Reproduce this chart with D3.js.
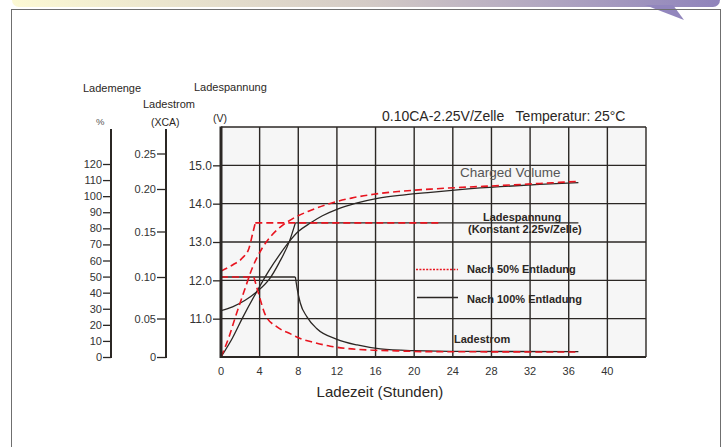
<!DOCTYPE html>
<html><head><meta charset="utf-8">
<script src="https://cdn.jsdelivr.net/npm/d3@7"></script>
<style>
html,body{margin:0;padding:0;background:#fff;}
svg{display:block;font-family:"Liberation Sans",Arial,sans-serif;}
</style></head><body>
<svg id="c" width="725" height="447"></svg>
<script>
// ---------- data ----------
const hourTicks = [0,4,8,12,16,20,24,28,32,36,40];
const hourGrid = [0,4,8,12,16,20,24,28,32,36,40,44];
const voltTicks = [11,12,13,14,15];
const voltGrid = [10,11,12,13,14,15,16];
const chargeTicks = [0,10,20,30,40,50,60,70,80,90,100,110,120];
const currentTicks = [0,0.05,0.10,0.15,0.20,0.25];

// charge voltage (V) – rising part, then held constant
const volt100Rise = [[0,11.21],[1.2,11.31],[2.5,11.48],[3.65,11.69],[5.0,12.03],[6.0,12.45],[7.1,13.03],[7.7,13.5]];
const volt100Hold = [[7.7,13.5],[37,13.5]];
const volt50Rise = [[0,12.24],[1.2,12.40],[2.2,12.58],[2.9,12.84],[3.25,13.19],[3.55,13.5]];
const volt50Hold = [[3.55,13.5],[22.7,13.5]];

// charged volume (%)
const charge100 = [[0,0],[1.2,12],[2.2,24],[3.66,40.2],[5.0,54],[6.0,63],[7.1,72],[8,78],[9.25,83.3],[10.5,87.8],[12,91.8],[14,95.6],[16.2,98.6],[19,100.8],[21.7,102.4],[25,104.2],[28.9,105.9],[33,107.3],[37,108.4]];
const charge50 = [[0,0],[0.8,12],[1.5,25],[2.4,41],[3.25,55.5],[4.3,68],[5.3,76],[6.4,82],[7.6,86.6],[9,90.5],[11.3,95.5],[13.5,98.8],[15.8,101.2],[18.6,103],[21.7,104.4],[25,105.5],[28.9,106.6],[33,107.9],[37,109.2]];

// charge current (xCA)
const current100Hold = [[0,0.10],[7.7,0.10]];
const current100Decay = [[7.7,0.10],[7.87,0.087],[8.2,0.069],[8.9,0.052],[9.9,0.037],[12,0.023],[14.1,0.0156],[16.5,0.0105],[20,0.0082],[25,0.0072],[37,0.007]];
const current50Hold = [[0,0.10],[3.4,0.10]];
const current50Decay = [[3.4,0.10],[3.94,0.078],[4.6,0.054],[5.8,0.039],[7.2,0.030],[8.2,0.024],[9.6,0.019],[11.3,0.014],[13.1,0.011],[15.5,0.009],[18.2,0.008],[21,0.007],[37,0.0065]];

// ---------- layout ----------
const svg = d3.select("#c");
const ink = "#2b2724", red = "#e8141f";
const x = d3.scaleLinear([0,44],[221,646]);
const yV = d3.scaleLinear([10,16],[357,127]);
const yI = d3.scaleLinear([0,0.05,0.10,0.15,0.20,0.25],[357,318.5,277,231.5,189,153.5]);
const yP = d3.scaleLinear([0,120],[357,164]);

// header band
const defs = svg.append("defs");
const g = defs.append("linearGradient").attr("id","band").attr("x1","0").attr("x2","1");
g.append("stop").attr("offset","0").attr("stop-color","#fcf9d4");
g.append("stop").attr("offset","0.5").attr("stop-color","#d4cbc6");
g.append("stop").attr("offset","1").attr("stop-color","#8f83bb");
svg.append("rect").attr("x",12).attr("y",-12).attr("width",708).attr("height",19).attr("rx",7).attr("fill","url(#band)");
svg.append("path").attr("d","M645,5 L673,5 L684,20 Z").attr("fill","#9286bd");
// frame
svg.append("rect").attr("x",11.5).attr("y",9.5).attr("width",709).attr("height",450).attr("fill","none").attr("stroke","#6f6f6f").attr("stroke-width",1);

// plot background
svg.append("rect").attr("x",x(0)).attr("y",yV(16)).attr("width",x(44)-x(0)).attr("height",yV(10)-yV(16)).attr("fill","#f6f6f6");

// grid
svg.append("g").selectAll("line").data(hourGrid).join("line")
  .attr("x1",d=>x(d)).attr("x2",d=>x(d)).attr("y1",yV(16)).attr("y2",yV(10))
  .attr("stroke",ink).attr("stroke-width",1.4);
svg.append("g").selectAll("line").data(voltGrid).join("line")
  .attr("x1",x(0)).attr("x2",x(44)).attr("y1",d=>yV(d)).attr("y2",d=>yV(d))
  .attr("stroke",ink).attr("stroke-width",1.4);

// curves
const mk = (ys, curve) => d3.line().x(d=>x(d[0])).y(d=>ys(d[1])).curve(curve || d3.curveMonotoneX);
const blackStyle = p => p.attr("fill","none").attr("stroke",ink).attr("stroke-width",1.3);
const redStyle = p => p.attr("fill","none").attr("stroke",red).attr("stroke-width",1.6).attr("stroke-dasharray","7,4");

const curves = svg.append("g");
curves.append("path").attr("d",mk(yI,d3.curveLinear)(current100Hold)).call(blackStyle);
curves.append("path").attr("d",mk(yI)(current100Decay)).call(blackStyle);
curves.append("path").attr("d",mk(yV)(volt100Rise)).call(blackStyle);
curves.append("path").attr("d",mk(yV,d3.curveLinear)(volt100Hold)).call(blackStyle);
curves.append("path").attr("d",mk(yP)(charge100)).call(blackStyle);

curves.append("path").attr("d",mk(yI,d3.curveLinear)(current50Hold)).call(redStyle);
curves.append("path").attr("d",mk(yI)(current50Decay)).call(redStyle);
curves.append("path").attr("d",mk(yV)(volt50Rise)).call(redStyle);
curves.append("path").attr("d",mk(yV,d3.curveLinear)(volt50Hold)).call(redStyle);
curves.append("path").attr("d",mk(yP)(charge50)).call(redStyle);

// thick plot borders
svg.append("line").attr("x1",x(0)).attr("x2",x(0)).attr("y1",yV(16)-0.5).attr("y2",yV(10)+1).attr("stroke",ink).attr("stroke-width",3);
svg.append("line").attr("x1",x(0)).attr("x2",x(44)).attr("y1",yV(10)).attr("y2",yV(10)).attr("stroke",ink).attr("stroke-width",2);

// voltage axis
const axV = svg.append("g").attr("transform",`translate(${x(0)-1},0)`)
  .call(d3.axisLeft(yV).tickValues(voltTicks).tickFormat(d3.format(".1f")).tickSize(7).tickPadding(1));
axV.select(".domain").remove();
axV.selectAll("line").attr("stroke",ink).attr("stroke-width",1.3);
axV.selectAll("text").attr("font-size",12).attr("fill","#333").attr("font-family","Liberation Sans, Arial, sans-serif");

// current axis
const axI = svg.append("g").attr("transform","translate(166,0)")
  .call(d3.axisLeft(yI).tickValues(currentTicks).tickFormat(d=>d===0?"0":d3.format(".2f")(d)).tickSize(9).tickPadding(1));
axI.select(".domain").remove();
axI.append("line").attr("x1",0).attr("x2",0).attr("y1",129).attr("y2",yI(0)+1).attr("stroke",ink).attr("stroke-width",2);
axI.selectAll(".tick line").attr("stroke",ink).attr("stroke-width",1.3);
axI.selectAll("text").attr("font-size",11).attr("fill","#333").attr("font-family","Liberation Sans, Arial, sans-serif");

// charge axis
const axP = svg.append("g").attr("transform","translate(111,0)")
  .call(d3.axisLeft(yP).tickValues(chargeTicks).tickSize(8).tickPadding(1));
axP.select(".domain").remove();
axP.append("line").attr("x1",0).attr("x2",0).attr("y1",129).attr("y2",yP(0)+1).attr("stroke",ink).attr("stroke-width",2);
axP.selectAll(".tick line").attr("stroke",ink).attr("stroke-width",1.3);
axP.selectAll("text").attr("font-size",11).attr("fill","#333").attr("font-family","Liberation Sans, Arial, sans-serif");

// x tick labels
svg.append("g").selectAll("text").data(hourTicks).join("text")
  .attr("x",d=>x(d)).attr("y",375).attr("text-anchor","middle")
  .attr("font-size",11).attr("fill","#333")
  .style("font-family","'Liberation Sans Narrow','Arial Narrow','Liberation Sans',sans-serif")
  .text(d=>d);

// texts
const T = (t,xx,yy,size,opts={}) => {
  const e = svg.append("text").attr("x",xx).attr("y",yy).attr("font-size",size)
    .attr("fill",opts.fill||"#2b2724").attr("font-weight",opts.bold?"bold":"normal")
    .attr("text-anchor",opts.anchor||"start").style("white-space","pre").text(t);
  return e;
};
T("Lademenge",83,92,11);
T("Ladestrom",143,108,11);
T("Ladespannung",194,91,11);
T("%",96,125,9.5,{fill:"#555"});
T("(XCA)",151,126,10.5);
T("(V)",213,122,10.5);
T("0.10CA-2.25V/Zelle   Temperatur: 25°C",382,121,14);
T("Charged Volume",460,177,13.5,{fill:"#555"});
T("Ladespannung",483,221,11,{bold:true});
T("(Konstant 2.25v/Zelle)",468,233,11,{bold:true});
T("Nach 50% Entladung",467,273,11,{bold:true});
T("Nach 100% Entladung",467,303,11,{bold:true});
T("Ladestrom",454,343,11,{bold:true});
T("Ladezeit (Stunden)",380,397,15,{anchor:"middle"});

// legend samples
svg.append("line").attr("x1",416).attr("x2",458).attr("y1",269.5).attr("y2",269.5).attr("stroke",red).attr("stroke-width",1.3).attr("stroke-dasharray","2,1.4");
svg.append("line").attr("x1",417).attr("x2",458).attr("y1",297.5).attr("y2",297.5).attr("stroke",ink).attr("stroke-width",1.3);
</script>
</body></html>
